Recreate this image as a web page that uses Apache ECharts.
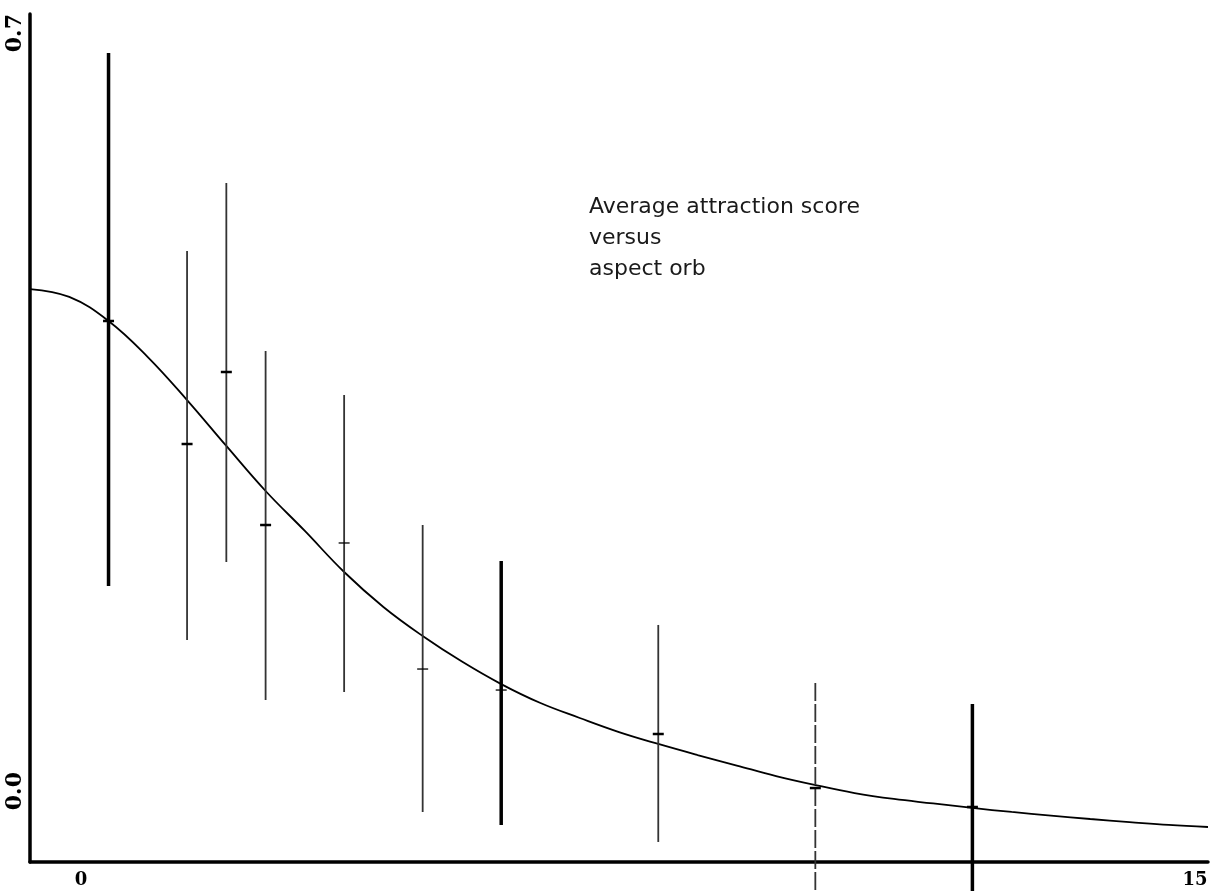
<!DOCTYPE html>
<html>
<head>
<meta charset="utf-8">
<script src="https://cdn.jsdelivr.net/npm/echarts@6/dist/echarts.min.js"></script>
<style>
html,body{margin:0;padding:0;background:#fff;}
#chart{width:1215px;height:891px;}
</style>
</head>
<body>
<div id="chart"></div>
<script>
// ---- data ----
const orbValues   = [2, 4, 5, 6, 8, 10, 12, 16, 20, 24];
const meanValues  = [0.4165, 0.3029, 0.3694, 0.2281, 0.2115, 0.0951, 0.0757, 0.0351, -0.0148, -0.0323];
const upperValues = [0.6640, 0.4811, 0.5439, 0.3888, 0.3482, 0.2281, 0.1949, 0.1358, 0.0822, 0.0628];
const lowerValues = [0.1718, 0.1219, 0.1939, 0.0665, 0.0739, -0.0369, -0.0489, -0.0646, -0.1099, -0.1099];

const curveX = [0,1,2,3,4,5,6,7,8,9,10,11,12,13,14,15,16,17,18,19,20,21,22,23,24,25,26,27,28,29,30];
const curveY = [0.4460,0.4387,0.4165,0.3832,0.3435,0.3011,0.2595,0.2226,0.1847,0.1524,0.1256,0.1020,0.0812,0.0637,0.0499,0.0369,0.0259,0.0157,0.0060,-0.0037,-0.0120,-0.0194,-0.0249,-0.0290,-0.0332,-0.0369,-0.0402,-0.0434,-0.0462,-0.0489,-0.0508];

const yTickValues = [0, 0.7];
const xTickValues = [1.3, 29.67];
const xTickLabels = ['0', '15'];
const titleText = 'Average attraction score\nversus\naspect orb';

// ---- styles ----
const thickBars = new Set([0, 6, 9]);
const dashedBars = new Set([8]);
const thinMeans = new Set([4, 5, 6]);

const errorData = orbValues.map((x, i) => [x, lowerValues[i], upperValues[i], meanValues[i]]);
const curveData = curveX.map((x, i) => [x, curveY[i]]);

const chart = echarts.init(document.getElementById('chart'));
chart.setOption({
  animation: false,
  backgroundColor: '#fff',
  title: {
    text: titleText,
    left: 584, top: 187,
    textStyle: { fontFamily: 'DejaVu Sans', fontSize: 22, fontWeight: 'normal', color: '#1a1a1a', lineHeight: 31 }
  },
  grid: { left: 30, right: 7, top: 14, bottom: 29 },
  xAxis: {
    type: 'value', min: 0, max: 30,
    axisLine: { show: true, onZero: false, lineStyle: { color: '#000', width: 3.5 } },
    axisTick: { show: false },
    splitLine: { show: false },
    axisLabel: {
      customValues: xTickValues,
      formatter: (v) => xTickLabels[xTickValues.indexOf(v)],
      fontFamily: 'DejaVu Serif', fontWeight: 'bold', fontSize: 18, color: '#000', margin: 9
    }
  },
  yAxis: {
    type: 'value', min: -0.0831, max: 0.7,
    axisLine: { show: true, onZero: false, lineStyle: { color: '#000', width: 3.5 } },
    axisTick: { show: false },
    splitLine: { show: false },
    axisLabel: {
      customValues: yTickValues,
      formatter: (v) => v.toFixed(1),
      rotate: 90, align: 'right', verticalAlign: 'bottom',
      fontFamily: 'DejaVu Serif', fontWeight: 'bold', fontSize: 22, color: '#000', margin: 4
    }
  },
  series: [
    {
      type: 'line', data: curveData, smooth: 0.4, showSymbol: false, symbol: 'none',
      lineStyle: { color: '#000', width: 1.8 }, z: 3
    },
    {
      type: 'custom', data: errorData, clip: false, z: 4,
      renderItem: function (params, api) {
        const i = params.dataIndex;
        const x = api.value(0);
        const lo = api.coord([x, api.value(1)]);
        const hi = api.coord([x, api.value(2)]);
        const mn = api.coord([x, api.value(3)]);
        const thick = thickBars.has(i);
        const bw = thick ? 3.5 : 1.8;
        const col = thick ? '#000' : '#333';
        const half = 5.5;
        return {
          type: 'group',
          children: [
            { type: 'line', shape: { x1: hi[0], y1: hi[1], x2: lo[0], y2: lo[1] },
              style: { stroke: col, lineWidth: bw, lineDash: dashedBars.has(i) ? [18, 3] : null } },
            { type: 'line', shape: { x1: mn[0] - half, y1: mn[1], x2: mn[0] + half, y2: mn[1] },
              style: { stroke: '#000', lineWidth: thinMeans.has(i) ? 1.3 : 2.5 } }
          ]
        };
      }
    }
  ]
});
</script>
</body>
</html>
